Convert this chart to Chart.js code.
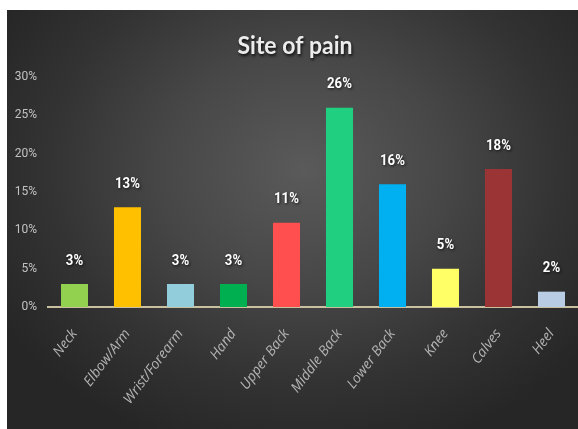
<!DOCTYPE html>
<html>
<head>
<meta charset="utf-8">
<script src="https://cdn.jsdelivr.net/npm/chart.js@4/dist/chart.umd.min.js"></script>
<style>
  html, body { margin: 0; padding: 0; background: #ffffff; }
  body { width: 578px; height: 429px; position: relative; overflow: hidden; }
  #panel {
    position: absolute; left: 7px; top: 10px; width: 571px; height: 419px;
    background: radial-gradient(ellipse 62% 70% at 52% 38%, #5a5a5a 0%, #474747 40%, #333333 72%, #262626 100%);
  }
  canvas { display: block; }
</style>
</head>
<body>
<div id="panel"><canvas id="c" width="571" height="419"></canvas></div>
<script>
// Share of respondents reporting pain at each body site
const categories = ['Neck', 'Elbow/Arm', 'Wrist/Forearm', 'Hand', 'Upper Back', 'Middle Back', 'Lower Back', 'Knee', 'Calves', 'Heel'];
const painShare = [3, 13, 3, 3, 11, 26, 16, 5, 18, 2];
const barColors = ['#92d050', '#ffc000', '#92cddc', '#00b050', '#ff4f4f', '#20d080', '#00b0f0', '#ffff66', '#9b3535', '#b8cce4'];
const yTicks = [0, 5, 10, 15, 20, 25, 30];

// Draw text squeezed horizontally to mimic a condensed face
function narrowText(ctx, text, x, y, squeeze) {
  ctx.save();
  ctx.translate(x, y);
  ctx.scale(squeeze, 1);
  ctx.fillText(text, 0, 0);
  ctx.restore();
}

// Percentage labels above each bar
const valueLabels = {
  id: 'valueLabels',
  afterDatasetsDraw(chart) {
    const ctx = chart.ctx;
    const meta = chart.getDatasetMeta(0);
    const data = chart.data.datasets[0].data;
    ctx.save();
    ctx.font = 'bold 15px Roboto, sans-serif';
    ctx.textAlign = 'center';
    ctx.textBaseline = 'middle';
    ctx.fillStyle = '#ffffff';
    ctx.shadowColor = 'rgba(0,0,0,0.75)';
    ctx.shadowBlur = 3;
    ctx.shadowOffsetX = 1;
    ctx.shadowOffsetY = 1;
    meta.data.forEach((bar, i) => {
      narrowText(ctx, data[i] + '%', bar.x, bar.y - 23, 0.88);
    });
    ctx.restore();
  }
};

// Title with a soft drop shadow
const shadowTitle = {
  id: 'shadowTitle',
  afterDraw(chart) {
    const ctx = chart.ctx;
    ctx.save();
    ctx.font = 'bold 25px Lato, sans-serif';
    ctx.textAlign = 'center';
    ctx.textBaseline = 'middle';
    ctx.fillStyle = '#ececec';
    ctx.shadowColor = 'rgba(0,0,0,0.8)';
    ctx.shadowBlur = 3;
    ctx.shadowOffsetX = 1;
    ctx.shadowOffsetY = 2;
    narrowText(ctx, 'Site of pain', 288, 36, 0.92);
    ctx.restore();
  }
};

new Chart(document.getElementById('c'), {
  type: 'bar',
  data: {
    labels: categories,
    datasets: [{
      data: painShare,
      backgroundColor: barColors,
      borderWidth: 0,
      barPercentage: 0.51,
      categoryPercentage: 1
    }]
  },
  options: {
    responsive: false,
    animation: false,
    layout: { padding: { top: 67, left: 0, right: 0, bottom: 0 } },
    plugins: {
      legend: { display: false },
      tooltip: { enabled: false },
      title: { display: false }
    },
    scales: {
      x: {
        grid: { display: false, drawTicks: true, tickLength: 8 },
        border: { display: true, color: '#c9c0a0', width: 2 },
        ticks: {
          color: '#b3b3b3',
          font: { family: '"Open Sans", sans-serif', size: 14, style: 'italic' },
          minRotation: 53,
          maxRotation: 53,
          padding: 11,
          autoSkip: false
        },
        afterFit(scale) { scale.height = 122; }
      },
      y: {
        min: 0,
        max: 30,
        grid: { display: false, drawTicks: true, tickLength: 8 },
        border: { display: false },
        afterBuildTicks(scale) { scale.ticks = yTicks.map(v => ({ value: v })); },
        ticks: {
          color: '#c2c2c2',
          font: { family: 'Roboto, sans-serif', size: 12 },
          padding: 3,
          callback: v => v + '%'
        },
        afterFit(scale) { scale.width = 41; }
      }
    }
  },
  plugins: [valueLabels, shadowTitle]
});
</script>
</body>
</html>
